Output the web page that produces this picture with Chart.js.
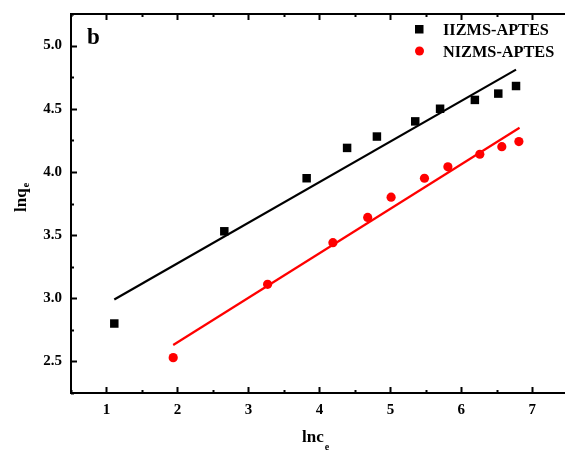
<!DOCTYPE html>
<html>
<head>
<meta charset="utf-8">
<script src="https://cdn.jsdelivr.net/npm/chart.js@4.4.1/dist/chart.umd.min.js"></script>
<style>
  html, body { margin: 0; padding: 0; background: #fff; }
  #wrap { width: 565px; height: 453px; position: relative; }
</style>
</head>
<body>
<div id="wrap"><canvas id="mycanvas"></canvas></div>
<script>
// values
var iizmsX = [1.11, 2.66, 3.82, 4.39, 4.81, 5.35, 5.70, 6.19, 6.52, 6.77];
var iizmsY = [2.80, 3.53, 3.95, 4.19, 4.28, 4.40, 4.50, 4.57, 4.62, 4.68];
var nizmsX = [1.94, 3.27, 4.19, 4.68, 5.01, 5.48, 5.81, 6.26, 6.57, 6.81];
var nizmsY = [2.53, 3.11, 3.44, 3.64, 3.80, 3.95, 4.04, 4.14, 4.20, 4.24];
// fitted lines (end points)
var iizmsFitX = [1.11, 6.77];
var iizmsFitY = [2.99, 4.81];
var nizmsFitX = [1.94, 6.82];
var nizmsFitY = [2.63, 4.35];

function pts(xs, ys) {
  var out = [];
  for (var i in xs) out.push({x: xs[i], y: ys[i]});
  return out;
}

var FONT = "'Liberation Serif', 'Times New Roman', serif";

// frame, inside ticks, titles, legend and panel letter
var decor = {
  id: 'decor',
  afterDraw: function(chart) {
    var ctx = chart.ctx;
    var a = chart.chartArea;
    var xs = chart.scales.x, ys = chart.scales.y;
    ctx.save();
    ctx.strokeStyle = '#000';
    ctx.lineWidth = 2;
    ctx.beginPath();
    ctx.moveTo(a.left, a.top); ctx.lineTo(a.right + 2, a.top);
    ctx.moveTo(a.left, a.top - 1); ctx.lineTo(a.left, a.bottom + 1);
    ctx.moveTo(a.left - 1, a.bottom); ctx.lineTo(a.right + 2, a.bottom);
    ctx.stroke();

    // x ticks (bottom + top), inside
    xs.ticks.forEach(function(t) {
      var px = Math.round(xs.getPixelForValue(t.value)) + 0.5;
      var major = Math.abs(t.value - Math.round(t.value)) < 1e-6;
      var len = major ? 6 : 3;
      ctx.beginPath();
      ctx.moveTo(px, a.bottom); ctx.lineTo(px, a.bottom - len);
      ctx.moveTo(px, a.top); ctx.lineTo(px, a.top + len);
      ctx.stroke();
    });
    ys.ticks.forEach(function(t) {
      var py = Math.round(ys.getPixelForValue(t.value)) + 0.5;
      var major = Math.abs(t.value * 2 - Math.round(t.value * 2)) < 1e-6;
      var len = major ? 6 : 3;
      ctx.beginPath();
      ctx.moveTo(a.left, py); ctx.lineTo(a.left + len, py);
      ctx.stroke();
    });

    ctx.fillStyle = '#000';
    ctx.textBaseline = 'alphabetic';
    // x title
    ctx.font = 'bold 17px ' + FONT;
    ctx.textAlign = 'left';
    ctx.fillText('lnc', 302, 442);
    var w = ctx.measureText('lnc').width;
    ctx.font = 'bold 10px ' + FONT;
    ctx.fillText('e', 302 + w + 1, 450);
    // y title
    ctx.save();
    ctx.translate(26, 212);
    ctx.rotate(-Math.PI / 2);
    ctx.font = 'bold 17px ' + FONT;
    ctx.fillText('lnq', 0, 0);
    w = ctx.measureText('lnq').width;
    ctx.font = 'bold 10px ' + FONT;
    ctx.fillText('e', w + 1, 3);
    ctx.restore();

    // panel letter
    ctx.font = 'bold 23px ' + FONT;
    ctx.fillText('b', 87, 44);

    // legend
    ctx.fillStyle = '#000';
    ctx.fillRect(415, 25, 8.5, 8.5);
    ctx.fillStyle = '#ff0000';
    ctx.beginPath();
    ctx.arc(419.5, 51, 4.5, 0, Math.PI * 2);
    ctx.fill();
    ctx.fillStyle = '#000';
    ctx.font = 'bold 16.3px ' + FONT;
    ctx.fillText('IIZMS-APTES', 443, 35);
    ctx.fillText('NIZMS-APTES', 443, 57);
    ctx.restore();
  }
};

var chartdata = {
  datasets: [
    {
      label: 'IIZMS-APTES fit',
      type: 'line',
      data: pts(iizmsFitX, iizmsFitY),
      borderColor: '#000',
      borderWidth: 2.2,
      pointRadius: 0,
      fill: false
    },
    {
      label: 'NIZMS-APTES fit',
      type: 'line',
      data: pts(nizmsFitX, nizmsFitY),
      borderColor: '#ff0000',
      borderWidth: 2.2,
      pointRadius: 0,
      fill: false
    },
    {
      label: 'IIZMS-APTES',
      data: pts(iizmsX, iizmsY),
      pointStyle: 'rect',
      pointRadius: 6,
      backgroundColor: '#000',
      borderColor: '#000',
      borderWidth: 0
    },
    {
      label: 'NIZMS-APTES',
      data: pts(nizmsX, nizmsY),
      pointStyle: 'circle',
      pointRadius: 4.6,
      backgroundColor: '#ff0000',
      borderColor: '#ff0000',
      borderWidth: 0
    }
  ]
};

var LineGraph = new Chart(document.getElementById('mycanvas'), {
  type: 'scatter',
  data: chartdata,
  options: {
    responsive: true,
    maintainAspectRatio: false,
    animation: false,
    layout: { autoPadding: false, padding: { left: 0, right: 0, top: 14, bottom: 0 } },
    plugins: { legend: { display: false }, tooltip: { enabled: false } },
    scales: {
      x: {
        type: 'linear',
        min: 0.5,
        max: 7.46,
        grid: { display: false, drawTicks: false },
        border: { display: false },
        ticks: {
          stepSize: 0.5,
          includeBounds: false,
          autoSkip: false,
          maxRotation: 0,
          padding: 8,
          color: '#000',
          font: { family: FONT, size: 15, weight: 'bold' },
          callback: function(v) { return Math.abs(v - Math.round(v)) < 1e-6 ? String(v) : ''; }
        },
        afterFit: function(s) { s.height = 60; s.paddingLeft = 0; s.paddingRight = 0; }
      },
      y: {
        type: 'linear',
        min: 2.25,
        max: 5.25,
        grid: { display: false, drawTicks: false },
        border: { display: false },
        ticks: {
          stepSize: 0.25,
          autoSkip: false,
          padding: 9,
          color: '#000',
          font: { family: FONT, size: 15, weight: 'bold' },
          callback: function(v) { return Math.abs(v * 2 - Math.round(v * 2)) < 1e-6 ? v.toFixed(1) : ''; }
        },
        afterFit: function(s) { s.width = 71; s.paddingTop = 0; s.paddingBottom = 0; }
      }
    }
  },
  plugins: [decor]
});
</script>
</body>
</html>
